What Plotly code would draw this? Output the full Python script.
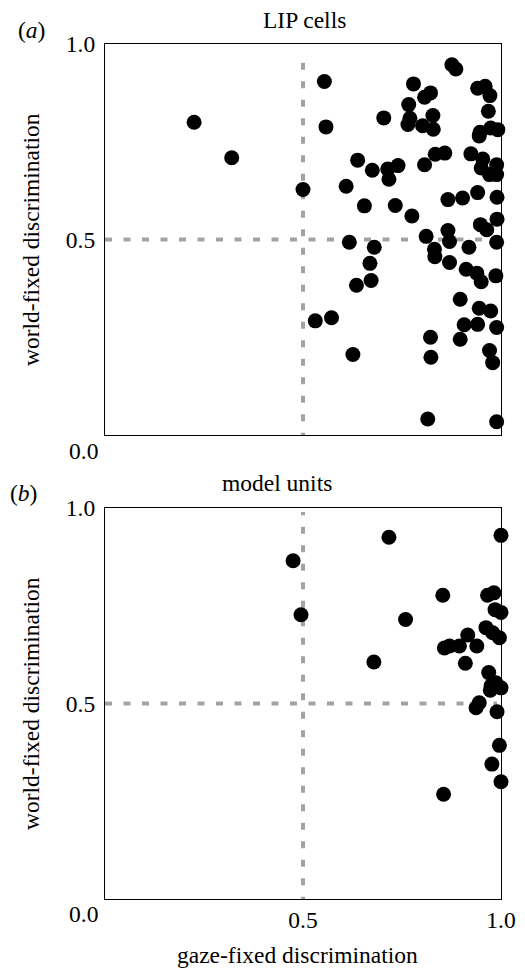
import plotly.graph_objects as go

# ---------------- data ----------------
# (a) LIP cells: gaze-fixed (x) vs world-fixed (y) discrimination
lip_x = [0.225, 0.320, 0.500, 0.554, 0.558, 0.531, 0.572, 0.626, 0.609, 0.617,
         0.638, 0.655, 0.675, 0.680, 0.669, 0.672, 0.635, 0.704, 0.714, 0.717,
         0.740, 0.733, 0.767, 0.770, 0.765, 0.779, 0.775, 0.807, 0.822, 0.828,
         0.802, 0.829, 0.807, 0.834, 0.858, 0.811, 0.832, 0.833, 0.866, 0.866,
         0.870, 0.870, 0.822, 0.823, 0.815, 0.876, 0.886, 0.903, 0.919, 0.912,
         0.897, 0.907, 0.897, 0.924, 0.941, 0.960, 0.972, 0.968, 0.947, 0.945,
         0.974, 0.992, 0.954, 0.950, 0.971, 0.989, 0.989, 0.941, 0.990, 0.948,
         0.964, 0.990, 0.989, 0.939, 0.950, 0.987, 0.941, 0.945, 0.974, 0.989,
         0.971, 0.979, 0.989]
lip_y = [0.800, 0.709, 0.628, 0.904, 0.788, 0.292, 0.300, 0.206, 0.636, 0.493,
         0.703, 0.586, 0.677, 0.480, 0.439, 0.395, 0.383, 0.811, 0.680, 0.654,
         0.689, 0.587, 0.845, 0.810, 0.794, 0.898, 0.560, 0.864, 0.875, 0.817,
         0.791, 0.782, 0.691, 0.718, 0.721, 0.508, 0.475, 0.456, 0.602, 0.523,
         0.495, 0.441, 0.250, 0.199, 0.041, 0.947, 0.936, 0.606, 0.480, 0.424,
         0.347, 0.282, 0.245, 0.719, 0.887, 0.892, 0.868, 0.828, 0.774, 0.765,
         0.785, 0.781, 0.706, 0.683, 0.666, 0.691, 0.666, 0.620, 0.608, 0.538,
         0.525, 0.552, 0.493, 0.414, 0.392, 0.407, 0.283, 0.324, 0.317, 0.275,
         0.216, 0.185, 0.034]

# (b) model units
mod_x = [0.475, 0.495, 0.717, 1.000, 0.679, 0.759, 0.853, 0.855, 0.857, 0.870,
         0.895, 0.916, 0.939, 0.910, 0.966, 0.982, 0.985, 1.000, 0.962, 0.979,
         0.996, 0.969, 0.975, 0.973, 0.987, 1.000, 0.937, 0.945, 0.990, 0.996,
         0.977, 1.000]
mod_y = [0.865, 0.727, 0.925, 0.930, 0.606, 0.715, 0.777, 0.268, 0.642, 0.647,
         0.647, 0.675, 0.647, 0.603, 0.777, 0.783, 0.740, 0.733, 0.694, 0.681,
         0.668, 0.579, 0.545, 0.534, 0.553, 0.540, 0.489, 0.502, 0.479, 0.393,
         0.345, 0.300]

# chance-level reference lines
chance = 0.5
a_vline_y = [-0.012, 0.965]
a_hline_x = [0.0, 0.96]
b_vline_y = [-0.012, 0.99]
b_hline_x = [0.0, 0.99]

tick_vals = [0.5, 1.0]
tick_text = ["0.5", "1.0"]

titles = ["LIP cells", "model units"]
panel_labels = ["(<i>a</i>)", "(<i>b</i>)"]
ytitle = "world-fixed discrimination"
xtitle = "gaze-fixed discrimination"

# ---------------- figure ----------------
W, H = 525, 971
FONT = "Liberation Serif"
FS = 23.5
GRAY = "#a3a3a3"


def px_x(p):
    return p / W


def px_y(p):
    return 1 - p / H


fig = go.Figure()

dot_line = dict(color=GRAY, width=4, dash="7px,11.5px")

# panel a reference lines
fig.add_trace(go.Scatter(x=[chance, chance], y=a_vline_y, mode="lines", line=dot_line,
                         xaxis="x", yaxis="y", hoverinfo="skip", cliponaxis=False))
fig.add_trace(go.Scatter(x=a_hline_x, y=[chance, chance], mode="lines", line=dot_line,
                         xaxis="x", yaxis="y", hoverinfo="skip", cliponaxis=False))
# panel b reference lines
fig.add_trace(go.Scatter(x=[chance, chance], y=b_vline_y, mode="lines", line=dot_line,
                         xaxis="x2", yaxis="y2", hoverinfo="skip", cliponaxis=False))
fig.add_trace(go.Scatter(x=b_hline_x, y=[chance, chance], mode="lines", line=dot_line,
                         xaxis="x2", yaxis="y2", hoverinfo="skip", cliponaxis=False))

marker = dict(color="black", size=15, line=dict(width=0))
fig.add_trace(go.Scatter(x=lip_x, y=lip_y, mode="markers", marker=marker,
                         xaxis="x", yaxis="y", cliponaxis=False))
fig.add_trace(go.Scatter(x=mod_x, y=mod_y, mode="markers", marker=marker,
                         xaxis="x2", yaxis="y2", cliponaxis=False))

L, R = 105, 501
axis_common = dict(range=[0, 1], showgrid=False, zeroline=False, showline=True,
                   linecolor="black", linewidth=1.3, mirror=True, ticks="",
                   automargin=False,
                   tickfont=dict(family=FONT, size=FS, color="black"))

fig.update_layout(
    template="none",
    width=W, height=H,
    margin=dict(l=0, r=0, t=0, b=0, pad=0, autoexpand=False),
    paper_bgcolor="white", plot_bgcolor="white",
    font=dict(family=FONT, size=FS, color="black"),
    showlegend=False,
    xaxis=dict(domain=[px_x(L), px_x(R)], anchor="y", showticklabels=False, **axis_common),
    yaxis=dict(domain=[px_y(435), px_y(44)], anchor="x", tickvals=tick_vals,
               ticktext=tick_text, ticklabelstandoff=4, **axis_common),
    xaxis2=dict(domain=[px_x(L), px_x(R)], anchor="y2", tickvals=tick_vals,
                ticktext=tick_text, ticklabelstandoff=0, **axis_common),
    yaxis2=dict(domain=[px_y(899), px_y(508)], anchor="x2", tickvals=tick_vals,
                ticktext=tick_text, ticklabelstandoff=4, **axis_common),
)

ann = []
tf = dict(family=FONT, size=FS, color="black")


def add_text(text, px, py, **kw):
    ann.append(dict(text=text, x=px_x(px), y=px_y(py), xref="paper", yref="paper",
                    showarrow=False, font=tf, xanchor="center", yanchor="middle", **kw))


add_text(titles[0], 304, 20)
add_text(titles[1], 277, 483)
add_text(panel_labels[0], 31, 30)
add_text(panel_labels[1], 23, 493)
add_text(ytitle, 31, 240, textangle=-90)
add_text(ytitle, 31, 704, textangle=-90)
add_text(xtitle, 297, 955)
add_text("0.0", 83, 451)
add_text("0.0", 83, 914)

fig.update_layout(annotations=ann)

fig.write_html("out.html")
